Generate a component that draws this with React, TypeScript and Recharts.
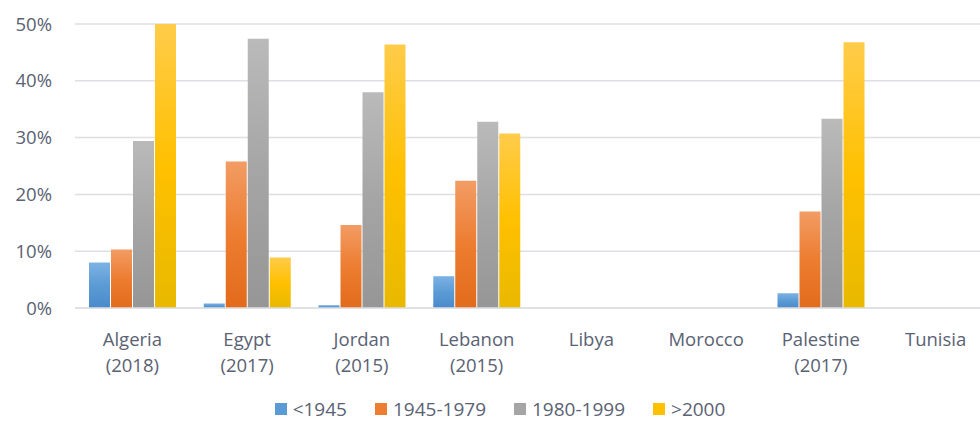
import { BarChart, Bar, XAxis, YAxis, CartesianGrid, Legend } from "recharts";

const countries = [
  "Algeria (2018)",
  "Egypt (2017)",
  "Jordan (2015)",
  "Lebanon (2015)",
  "Libya",
  "Morocco",
  "Palestine (2017)",
  "Tunisia",
];

// share of housing stock by construction period, in %
const before1945 = [8.0, 0.8, 0.5, 5.6, null, null, 2.6, null];
const from1945to1979 = [10.3, 25.8, 14.6, 22.4, null, null, 17.0, null];
const from1980to1999 = [29.4, 47.4, 38.0, 32.8, null, null, 33.3, null];
const after2000 = [50.0, 8.9, 46.4, 30.7, null, null, 46.8, null];

const yTicks = [0, 10, 20, 30, 40, 50];

const series = [
  { key: "b1945", name: "<1945", values: before1945, color: "#5b9bd5", top: "#7db2e3", bottom: "#4a8acb" },
  { key: "b1979", name: "1945-1979", values: from1945to1979, color: "#ed7d31", top: "#f29c64", bottom: "#e26b1b" },
  { key: "b1999", name: "1980-1999", values: from1980to1999, color: "#a5a5a5", top: "#bababa", bottom: "#969696" },
  { key: "b2000", name: ">2000", values: after2000, color: "#ffc000", top: "#ffcc4a", bottom: "#e8b900" },
];

const data = countries.map((c, i) => {
  const row: Record<string, string | number | null> = { country: c };
  series.forEach((s) => (row[s.key] = s.values[i]));
  return row;
});

const textColor = "#5a6273";
const font = "'Open Sans', Lato, sans-serif";

function CountryTick({ x, y, payload }: any) {
  const label: string = payload.value;
  const idx = label.indexOf(" (");
  const name = idx >= 0 ? label.slice(0, idx) : label;
  const year = idx >= 0 ? label.slice(idx + 1) : null;
  return (
    <text x={x} y={y} textAnchor="middle" fill={textColor} fontSize={18.5} fontFamily={font}>
      <tspan x={x} dy={38}>{name}</tspan>
      {year && (
        <tspan x={x} dy={26}>
          {year}
        </tspan>
      )}
    </text>
  );
}

function LegendBox() {
  return (
    <div
      style={{
        display: "flex",
        justifyContent: "center",
        alignItems: "center",
        height: 24,
        lineHeight: "24px",
        whiteSpace: "nowrap",
        fontFamily: font,
        fontSize: 19,
        color: textColor,
        overflow: "visible",
      }}
    >
      {series.map((s) => (
        <div key={s.key} style={{ display: "flex", alignItems: "center", margin: "0 14px", flexShrink: 0 }}>
          <span style={{ width: 12, height: 12, background: s.color, marginRight: 6, display: "inline-block" }} />
          <span style={{ display: "inline-block", paddingRight: 3, marginRight: -3 }}>{s.name}</span>
        </div>
      ))}
    </div>
  );
}

export default function App() {
  return (
    <div style={{ position: "absolute", left: 0, top: 0, width: 980, height: 421, overflow: "hidden", background: "#fff" }}>
      <BarChart
        width={1000}
        height={421}
        data={data}
        margin={{ top: 24, right: 7, left: 0, bottom: 0 }}
        barCategoryGap={14}
        barGap={1}
      >
        <defs>
          {series.map((s) => (
            <linearGradient key={s.key} id={`grad-${s.key}`} x1="0" y1="0" x2="0" y2="1">
              <stop offset="0%" stopColor={s.top} />
              <stop offset="50%" stopColor={s.color} />
              <stop offset="100%" stopColor={s.bottom} />
            </linearGradient>
          ))}
        </defs>
        <CartesianGrid vertical={false} stroke="#dedfe3" strokeWidth={1.5} />
        <XAxis
          dataKey="country"
          interval={0}
          axisLine={{ stroke: "#dedfe3", strokeWidth: 1.5 }}
          tickLine={false}
          tickSize={0}
          tickMargin={0}
          height={89}
          tick={<CountryTick />}
        />
        <YAxis
          domain={[0, 50]}
          ticks={yTicks}
          width={75}
          axisLine={false}
          tickLine={false}
          tickSize={0}
          tickMargin={23}
          tickFormatter={(v: number) => `${v}%`}
          tick={{ fill: textColor, fontSize: 18.5, fontFamily: font }}
        />
        <Legend
          verticalAlign="bottom"
          content={<LegendBox />}
          wrapperStyle={{ left: 0, width: 1000, top: 397, height: 24 }}
        />
        {series.map((s) => (
          <Bar
            key={s.key}
            dataKey={s.key}
            name={s.name}
            fill={`url(#grad-${s.key})`}
            isAnimationActive={false}
          />
        ))}
      </BarChart>
    </div>
  );
}
